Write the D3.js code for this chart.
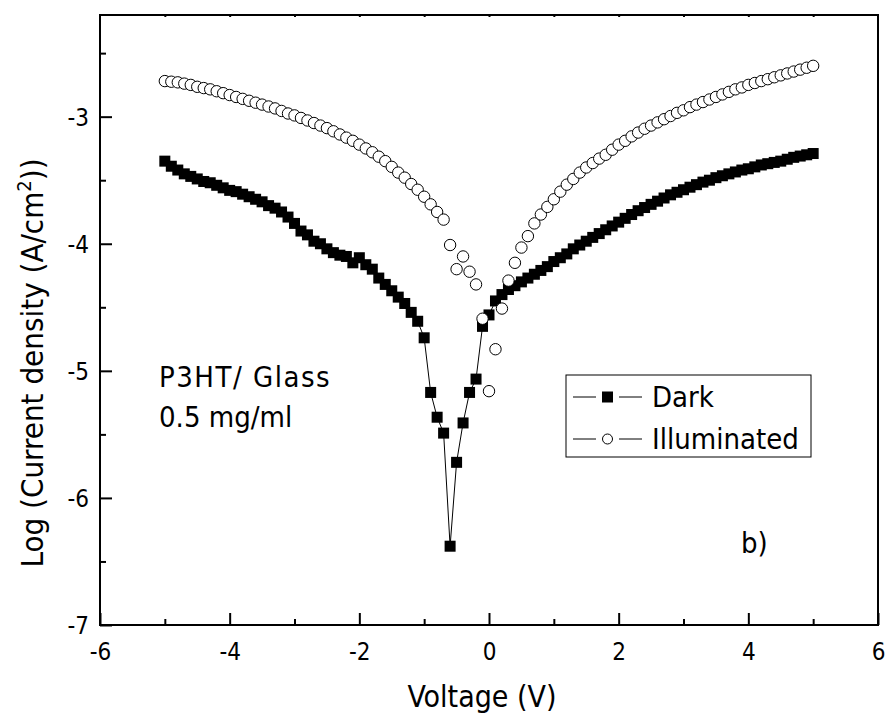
<!DOCTYPE html>
<html>
<head>
<meta charset="utf-8">
<script src="https://cdn.jsdelivr.net/npm/d3@7"></script>
<style>
  body { margin: 0; background: #fff; }
  text { font-family: "DejaVu Sans Condensed", "DejaVu Sans", sans-serif; font-stretch: condensed; fill: #000; }
</style>
</head>
<body>
<svg id="chart" width="891" height="717"></svg>
<script>
// voltage steps (V)
const voltage = [
  -5.0,-4.9,-4.8,-4.7,-4.6,-4.5,-4.4,-4.3,-4.2,-4.1,
  -4.0,-3.9,-3.8,-3.7,-3.6,-3.5,-3.4,-3.3,-3.2,-3.1,
  -3.0,-2.9,-2.8,-2.7,-2.6,-2.5,-2.4,-2.3,-2.2,-2.1,
  -2.0,-1.9,-1.8,-1.7,-1.6,-1.5,-1.4,-1.3,-1.2,-1.1,
  -1.0,-0.9,-0.8,-0.7,-0.6,-0.5,-0.4,-0.3,-0.2,-0.1,
  0.0,0.1,0.2,0.3,0.4,0.5,0.6,0.7,0.8,0.9,
  1.0,1.1,1.2,1.3,1.4,1.5,1.6,1.7,1.8,1.9,
  2.0,2.1,2.2,2.3,2.4,2.5,2.6,2.7,2.8,2.9,
  3.0,3.1,3.2,3.3,3.4,3.5,3.6,3.7,3.8,3.9,
  4.0,4.1,4.2,4.3,4.4,4.5,4.6,4.7,4.8,4.9,
  5.0
];

// log current density, dark
const dark = [
  -3.35,-3.39,-3.42,-3.45,-3.47,-3.49,-3.51,-3.52,-3.54,-3.56,
  -3.58,-3.59,-3.61,-3.63,-3.65,-3.67,-3.70,-3.72,-3.75,-3.79,
  -3.84,-3.90,-3.93,-3.98,-4.00,-4.04,-4.07,-4.09,-4.10,-4.15,
  -4.11,-4.165,-4.20,-4.27,-4.32,-4.37,-4.42,-4.47,-4.54,-4.61,
  -4.74,-5.17,-5.365,-5.49,-6.38,-5.72,-5.41,-5.17,-5.065,-4.65,
  -4.56,-4.45,-4.40,-4.36,-4.33,-4.30,-4.27,-4.24,-4.21,-4.18,
  -4.14,-4.11,-4.08,-4.04,-4.01,-3.98,-3.95,-3.92,-3.89,-3.86,
  -3.83,-3.80,-3.77,-3.74,-3.715,-3.69,-3.665,-3.64,-3.615,-3.595,
  -3.575,-3.555,-3.535,-3.515,-3.50,-3.48,-3.465,-3.45,-3.435,-3.42,
  -3.41,-3.395,-3.38,-3.37,-3.36,-3.35,-3.335,-3.32,-3.31,-3.30,
  -3.29
];

// log current density, illuminated
const illuminated = [
  -2.72,-2.725,-2.73,-2.74,-2.75,-2.765,-2.775,-2.785,-2.80,-2.815,
  -2.83,-2.845,-2.86,-2.875,-2.89,-2.905,-2.92,-2.935,-2.955,-2.975,
  -2.99,-3.01,-3.03,-3.05,-3.07,-3.09,-3.115,-3.14,-3.165,-3.19,
  -3.22,-3.25,-3.28,-3.315,-3.35,-3.395,-3.44,-3.48,-3.53,-3.575,
  -3.63,-3.69,-3.75,-3.81,-4.01,-4.20,-4.10,-4.22,-4.32,-4.59,
  -5.16,-4.83,-4.51,-4.29,-4.15,-4.03,-3.94,-3.84,-3.77,-3.71,
  -3.65,-3.59,-3.535,-3.49,-3.44,-3.40,-3.365,-3.33,-3.30,-3.26,
  -3.22,-3.19,-3.155,-3.125,-3.095,-3.07,-3.045,-3.02,-2.995,-2.97,
  -2.95,-2.925,-2.905,-2.885,-2.865,-2.845,-2.825,-2.805,-2.785,-2.77,
  -2.75,-2.735,-2.72,-2.705,-2.69,-2.675,-2.66,-2.645,-2.63,-2.615,
  -2.60
];

const xTicks = [-6, -4, -2, 0, 2, 4, 6];
const xMinor = [-5, -3, -1, 1, 3, 5];
const yTicks = [-7, -6, -5, -4, -3];
const yMinor = [-6.5, -5.5, -4.5, -3.5, -2.5];

const svg = d3.select("#chart");
const pLeft = 100, pRight = 878, pTop = 15, pBottom = 625;

const x = d3.scaleLinear().domain([-6, 6]).range([pLeft, pRight]);
const y = d3.scaleLinear().domain([-7, -2.2]).range([pBottom, pTop]);

// axes, ticks pointing inward
const xAxis = svg.append("g")
  .attr("transform", `translate(0,${pBottom})`)
  .call(d3.axisBottom(x).tickValues(xTicks).tickSizeInner(-12).tickSizeOuter(0).tickFormat(d => String(d)));
xAxis.selectAll("text")
  .attr("y", 0).attr("dy", null)
  .attr("transform", "translate(0,35)")
  .style("font-size", "24px");

svg.append("g")
  .attr("transform", `translate(0,${pBottom})`)
  .call(d3.axisBottom(x).tickValues(xMinor).tickSizeInner(-6).tickSizeOuter(0).tickFormat(""));

// small ticks along the top border
svg.append("g")
  .attr("transform", `translate(0,${pTop})`)
  .call(d3.axisTop(x).tickValues(xMinor.concat(xTicks.slice(1, -1))).tickSizeInner(-2).tickSizeOuter(0).tickFormat(""));

const yAxis = svg.append("g")
  .attr("transform", `translate(${pLeft},0)`)
  .call(d3.axisLeft(y).tickValues(yTicks).tickSizeInner(-12).tickSizeOuter(0).tickFormat(d => String(d)));
yAxis.selectAll("text")
  .attr("x", -11)
  .attr("dy", "0.35em")
  .style("font-size", "24px");

svg.append("g")
  .attr("transform", `translate(${pLeft},0)`)
  .call(d3.axisLeft(y).tickValues(yMinor).tickSizeInner(-6).tickSizeOuter(0).tickFormat(""));

svg.selectAll(".tick line").attr("stroke", "#000").attr("stroke-width", 2);
svg.selectAll(".domain").remove();

// frame
svg.append("rect")
  .attr("x", pLeft).attr("y", pTop)
  .attr("width", pRight - pLeft).attr("height", pBottom - pTop)
  .attr("fill", "none").attr("stroke", "#000").attr("stroke-width", 2);

const darkData = voltage.map((v, i) => ({ v: v, j: dark[i] }));
const illData = voltage.map((v, i) => ({ v: v, j: illuminated[i] }));

// dark: line + filled squares
svg.append("path")
  .datum(darkData)
  .attr("fill", "none")
  .attr("stroke", "#000")
  .attr("stroke-width", 1)
  .attr("d", d3.line().x(d => x(d.v)).y(d => y(d.j)));

const sq = 11;
svg.append("g").selectAll("rect")
  .data(darkData)
  .join("rect")
  .attr("x", d => x(d.v) - sq / 2)
  .attr("y", d => y(d.j) - sq / 2)
  .attr("width", sq).attr("height", sq)
  .attr("fill", "#000");

// illuminated: open circles
svg.append("g").selectAll("circle")
  .data(illData)
  .join("circle")
  .attr("cx", d => x(d.v))
  .attr("cy", d => y(d.j))
  .attr("r", 5.7)
  .attr("fill", "#fff")
  .attr("stroke", "#000")
  .attr("stroke-width", 1);

// axis titles
svg.append("text")
  .attr("x", 482).attr("y", 707)
  .attr("text-anchor", "middle")
  .style("font-size", "30px")
  .text("Voltage (V)");

const yt = svg.append("text")
  .attr("transform", "translate(43,363) rotate(-90)")
  .attr("text-anchor", "middle")
  .style("font-size", "31px");
yt.append("tspan").text("Log (Current density (A/cm");
yt.append("tspan").attr("dy", -12).style("font-size", "20px").text("2");
yt.append("tspan").attr("dy", 12).text("))");

// annotations
svg.append("text").attr("x", 159).attr("y", 387)
  .style("font-size", "29px").style("letter-spacing", "1.5px")
  .text("P3HT/ Glass");
svg.append("text").attr("x", 159).attr("y", 427)
  .style("font-size", "29px")
  .text("0.5 mg/ml");
svg.append("text").attr("x", 741).attr("y", 553)
  .style("font-size", "29px")
  .text("b)");

// legend
const legend = svg.append("g");
legend.append("rect")
  .attr("x", 566).attr("y", 375)
  .attr("width", 245).attr("height", 82)
  .attr("fill", "#fff").attr("stroke", "#000").attr("stroke-width", 1);

const rows = [
  { name: "Dark", y: 397, shape: "square" },
  { name: "Illuminated", y: 439, shape: "circle" }
];
rows.forEach(r => {
  legend.append("line").attr("x1", 573).attr("x2", 596).attr("y1", r.y).attr("y2", r.y).attr("stroke", "#000");
  legend.append("line").attr("x1", 619).attr("x2", 642).attr("y1", r.y).attr("y2", r.y).attr("stroke", "#000");
  if (r.shape === "square") {
    legend.append("rect").attr("x", 607.5 - 5.5).attr("y", r.y - 5.5).attr("width", 11).attr("height", 11).attr("fill", "#000");
  } else {
    legend.append("circle").attr("cx", 607.5).attr("cy", r.y).attr("r", 5).attr("fill", "#fff").attr("stroke", "#000");
  }
  legend.append("text").attr("x", 652).attr("y", r.y + 10)
    .style("font-size", "29px")
    .text(r.name);
});
</script>
</body>
</html>
